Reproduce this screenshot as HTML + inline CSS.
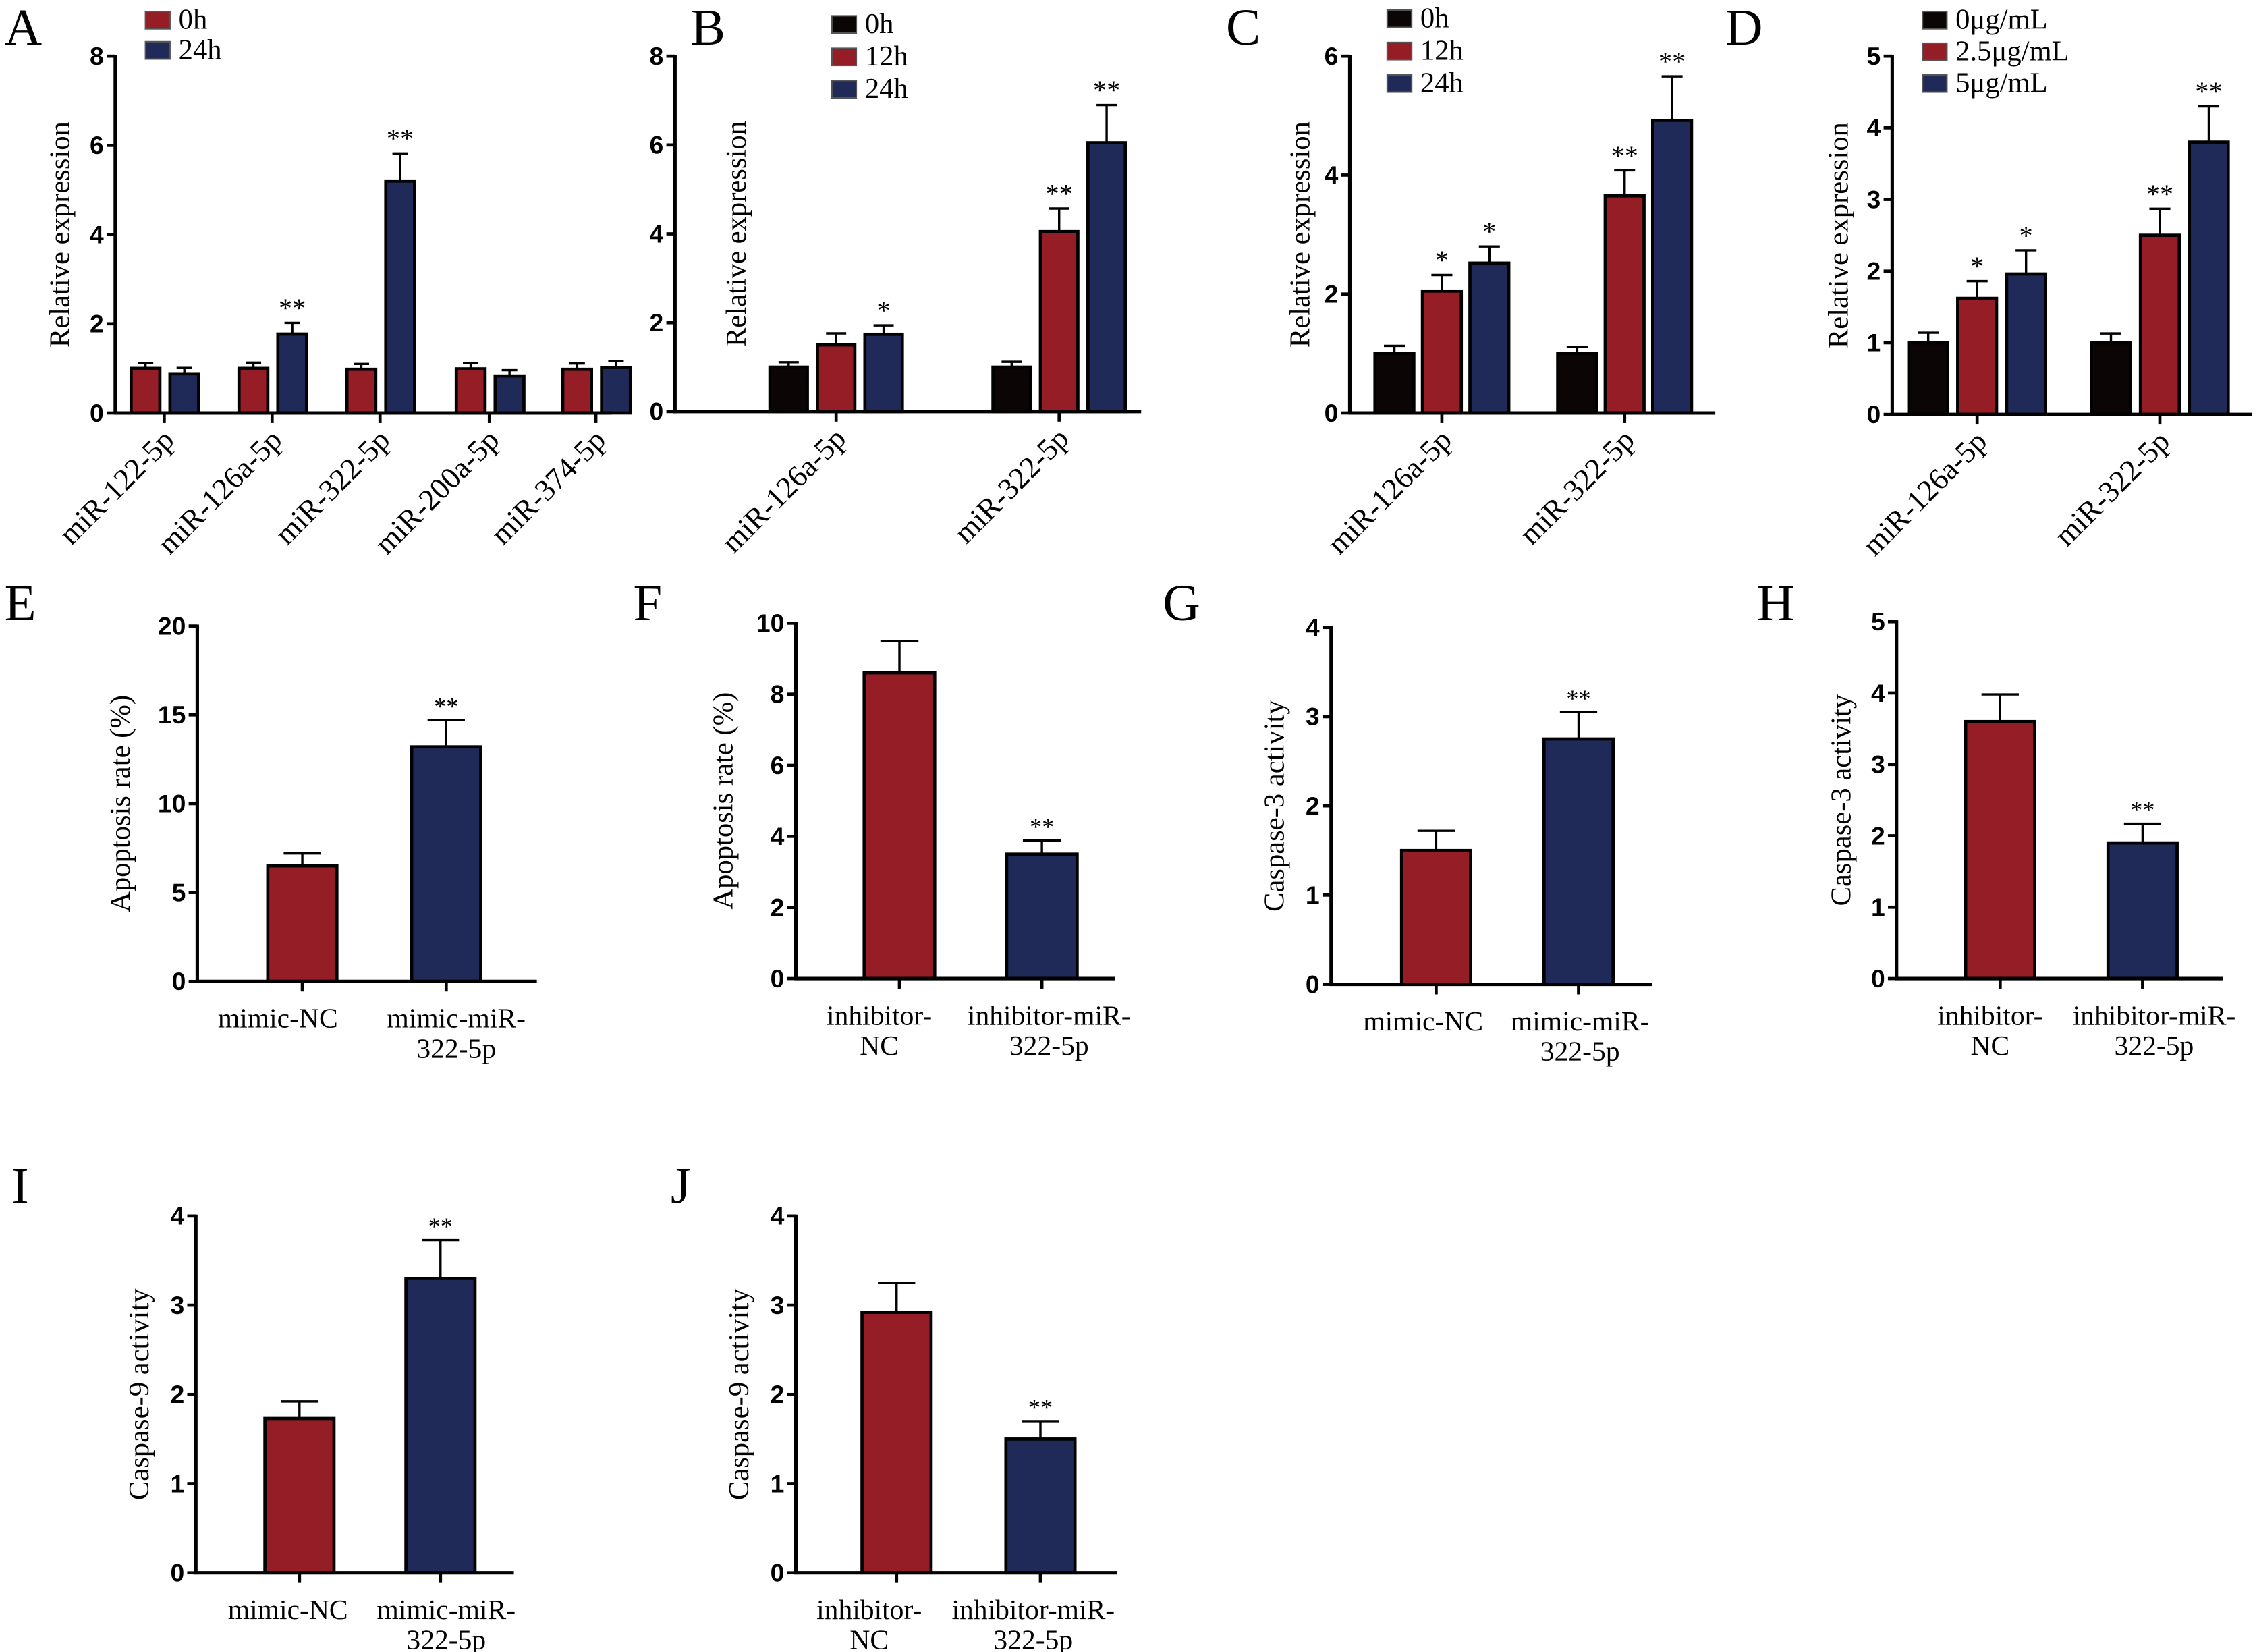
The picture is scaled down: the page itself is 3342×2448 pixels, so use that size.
<!DOCTYPE html>
<html><head><meta charset="utf-8">
<style>
html,body{margin:0;padding:0;background:#fff;}
svg{display:block;}
text{font-family:"Liberation Serif",serif;}
.tk{font-family:"Liberation Sans",sans-serif;font-weight:bold;font-size:17.5px;}
</style></head>
<body>
<svg id="fig" xmlns="http://www.w3.org/2000/svg" width="3342" height="2448" viewBox="0 0 1567 1148"></svg>
<script>
// ---------- DATA ----------
const aCategories=["miR-122-5p","miR-126a-5p","miR-322-5p","miR-200a-5p","miR-374-5p"];
const a0h=[1.0,1.0,0.98,0.99,0.98];
const a0hErr=[0.12,0.13,0.12,0.13,0.13];
const a24h=[0.88,1.77,5.2,0.83,1.02];
const a24hErr=[0.13,0.25,0.62,0.13,0.15];
const a24hSig=["","**","**","",""];
const aTicks=[0,2,4,6,8];

const bCategories=["miR-126a-5p","miR-322-5p"];
const b0h=[1.0,1.0];const b0hErr=[0.11,0.12];
const b12h=[1.5,4.05];const b12hErr=[0.26,0.52];const b12hSig=["","**"];
const b24h=[1.74,6.05];const b24hErr=[0.2,0.85];const b24hSig=["*","**"];
const bTicks=[0,2,4,6,8];

const cCategories=["miR-126a-5p","miR-322-5p"];
const c0h=[1.0,1.0];const c0hErr=[0.13,0.11];
const c12h=[2.05,3.65];const c12hErr=[0.27,0.43];const c12hSig=["*","**"];
const c24h=[2.52,4.92];const c24hErr=[0.28,0.74];const c24hSig=["*","**"];
const cTicks=[0,2,4,6];

const dCategories=["miR-126a-5p","miR-322-5p"];
const d0=[1.0,1.0];const d0Err=[0.14,0.13];
const d25=[1.62,2.5];const d25Err=[0.24,0.37];const d25Sig=["*","**"];
const d5=[1.96,3.8];const d5Err=[0.33,0.5];const d5Sig=["*","**"];
const dTicks=[0,1,2,3,4,5];

const eCategories=[["mimic-NC"],["mimic-miR-","322-5p"]];
const eValues=[6.5,13.2];const eErr=[0.7,1.5];const eSig=["","**"];const eTicks=[0,5,10,15,20];
const fCategories=[["inhibitor-","NC"],["inhibitor-miR-","322-5p"]];
const fValues=[8.6,3.5];const fErr=[0.9,0.38];const fSig=["","**"];const fTicks=[0,2,4,6,8,10];
const gCategories=[["mimic-NC"],["mimic-miR-","322-5p"]];
const gValues=[1.5,2.75];const gErr=[0.22,0.3];const gSig=["","**"];const gTicks=[0,1,2,3,4];
const hCategories=[["inhibitor-","NC"],["inhibitor-miR-","322-5p"]];
const hValues=[3.6,1.9];const hErr=[0.38,0.27];const hSig=["","**"];const hTicks=[0,1,2,3,4,5];
const iCategories=[["mimic-NC"],["mimic-miR-","322-5p"]];
const iValues=[1.73,3.3];const iErr=[0.19,0.43];const iSig=["","**"];const iTicks=[0,1,2,3,4];
const jCategories=[["inhibitor-","NC"],["inhibitor-miR-","322-5p"]];
const jValues=[2.92,1.5];const jErr=[0.33,0.2];const jSig=["","**"];const jTicks=[0,1,2,3,4];

// ---------- DRAWING ----------
const RED="#951e26",NAVY="#1f2a58",BLK="#0b0506";
const svg=document.getElementById('fig');
const NS="http://www.w3.org/2000/svg";
function mk(tag,attrs,parent){const e=document.createElementNS(NS,tag);for(const k in attrs)e.setAttribute(k,attrs[k]);(parent||svg).appendChild(e);return e;}

function drawPanel(p){
  const g=mk('g',{});
  
  
  const L=mk('text',{x:p.letter[0],y:p.letter[1],'font-size':36},g);L.textContent=p.id;
  
  
  const max=p.ticks[p.ticks.length-1];
  const yS=v=>p.y0-v/max*(p.y0-p.yTop);
  const yt=mk('text',{x:0,y:0,'font-size':20,'text-anchor':'middle',transform:`translate(${p.ytx},${(p.y0+p.yTop)/2}) rotate(-90)`},g);
  yt.textContent=p.ytitle;
  
  
  p.ticks.forEach(t=>{
    const y=yS(t);
    const l=mk('line',{x1:p.x0-6,x2:p.x0,y1:y,y2:y,stroke:'#000','stroke-width':2.2},g);
    
    
    const tx=mk('text',{x:p.x0-8,y:y+6,'text-anchor':'end',class:'tk'},g);tx.textContent=t;
    
    
  });
  p.series.forEach((s,j)=>{
    s.vals.forEach((v,i)=>{
      const cx=p.centers[i]+p.offsets[j];
      const top=yS(v),et=yS(v+s.errs[i]);
      const el=mk('line',{x1:cx,x2:cx,y1:top,y2:et,stroke:'#000','stroke-width':1.6},g);
      
      
      const cap=mk('line',{x1:cx-p.bw*0.27,x2:cx+p.bw*0.27,y1:et,y2:et,stroke:'#000','stroke-width':1.6},g);
      
      
      const fill=s.colors?s.colors[i]:s.color;
      const r=mk('rect',{x:cx-p.bw/2,y:top,width:p.bw,height:p.y0-top,fill:fill,stroke:'#000','stroke-width':2.2},g);
      
      
      if(s.sig&&s.sig[i]){const st=mk('text',{x:cx,y:et-4,'text-anchor':'middle','font-size':p.starSize||19},g);st.textContent=s.sig[i];
        
        }
    });
  });
  const ya=mk('line',{x1:p.x0,x2:p.x0,y1:p.yTop-1,y2:p.y0+1.1,stroke:'#000','stroke-width':2.4},g);
  
  
  const xa=mk('line',{x1:p.x0-1,x2:p.xEnd,y1:p.y0,y2:p.y0,stroke:'#000','stroke-width':2.4},g);
  
  
  p.cats.forEach((c,i)=>{
    const cx=p.centers[i];
    const tl=mk('line',{x1:cx,x2:cx,y1:p.y0,y2:p.y0+7,stroke:'#000','stroke-width':2.2},g);
    
    
    if(p.rot){
      const t=mk('text',{x:0,y:0,'font-size':21,'text-anchor':'end',transform:`translate(${cx+8},${p.y0+20}) rotate(-45)`},g);t.textContent=c;
      
      
    } else {
      const lx=cx+(p.labelShift?p.labelShift[i]:0);
      c.forEach((line,k)=>{const t=mk('text',{x:lx,y:p.y0+32+k*21,'font-size':19.5,'text-anchor':'middle'},g);t.textContent=line;
        
        });
    }
  });
  if(p.legend){
    p.legend.items.forEach((it,k)=>{
      const y=p.legend.y+k*p.legend.dy;
      const r=mk('rect',{x:p.legend.x,y:y,width:17,height:12,fill:it[1],stroke:'#555','stroke-width':1},g);
      
      
      const t=mk('text',{x:p.legend.x+23,y:y+12,'font-size':20},g);t.textContent=it[0];
      
      
    });
  }
}

drawPanel({id:'A',letter:[3,31],x0:80,y0:287,yTop:39,xEnd:425,ticks:aTicks,ytitle:'Relative expression',ytx:48,
  cats:aCategories,rot:true,centers:[114,189,264,340,414],offsets:[-13,14],bw:20,
  series:[{vals:a0h,errs:a0hErr,color:RED},{vals:a24h,errs:a24hErr,color:NAVY,sig:a24hSig}],
  legend:{x:101,y:8,dy:21,items:[['0h',RED],['24h',NAVY]]}});
drawPanel({id:'B',letter:[480,31],x0:469,y0:286,yTop:39,xEnd:793,ticks:bTicks,ytitle:'Relative expression',ytx:518,
  cats:bCategories,rot:true,centers:[581,736],offsets:[-33,0,33],bw:26,
  series:[{vals:b0h,errs:b0hErr,color:BLK},{vals:b12h,errs:b12hErr,color:RED,sig:b12hSig},{vals:b24h,errs:b24hErr,color:NAVY,sig:b24hSig}],
  legend:{x:578,y:11,dy:22.5,items:[['0h',BLK],['12h',RED],['24h',NAVY]]}});
drawPanel({id:'C',letter:[852,31],x0:938,y0:287,yTop:39,xEnd:1192,ticks:cTicks,ytitle:'Relative expression',ytx:910,
  cats:cCategories,rot:true,centers:[1002,1129],offsets:[-33,0,33],bw:27,
  series:[{vals:c0h,errs:c0hErr,color:BLK},{vals:c12h,errs:c12hErr,color:RED,sig:c12hSig},{vals:c24h,errs:c24hErr,color:NAVY,sig:c24hSig}],
  legend:{x:964,y:7,dy:22.5,items:[['0h',BLK],['12h',RED],['24h',NAVY]]}});
drawPanel({id:'D',letter:[1199,31],x0:1315,y0:288,yTop:39,xEnd:1565,ticks:dTicks,ytitle:'Relative expression',ytx:1284,
  cats:dCategories,rot:true,centers:[1374,1501],offsets:[-34,0,34],bw:27,
  series:[{vals:d0,errs:d0Err,color:BLK},{vals:d25,errs:d25Err,color:RED,sig:d25Sig},{vals:d5,errs:d5Err,color:NAVY,sig:d5Sig}],
  legend:{x:1336,y:8,dy:22,items:[['0\u03bcg/mL',BLK],['2.5\u03bcg/mL',RED],['5\u03bcg/mL',NAVY]]}});

const PAIR=[RED,NAVY];
drawPanel({id:'E',letter:[3,431],x0:137,y0:682,yTop:435,xEnd:373,ticks:eTicks,ytitle:'Apoptosis rate (%)',ytx:90,
  cats:eCategories,rot:false,centers:[210,310],labelShift:[-17,7],offsets:[0],bw:48,
  series:[{vals:eValues,errs:eErr,colors:PAIR,sig:eSig}],starSize:17});
drawPanel({id:'F',letter:[440,431],x0:553,y0:680,yTop:433,xEnd:775,ticks:fTicks,ytitle:'Apoptosis rate (%)',ytx:509,
  cats:fCategories,rot:false,centers:[625,724],labelShift:[-14,5],offsets:[0],bw:49,
  series:[{vals:fValues,errs:fErr,colors:PAIR,sig:fSig}],starSize:17});
drawPanel({id:'G',letter:[808,431],x0:925,y0:684,yTop:436,xEnd:1148,ticks:gTicks,ytitle:'Caspase-3 activity',ytx:892,
  cats:gCategories,rot:false,centers:[998,1097],labelShift:[-9,1],offsets:[0],bw:48,
  series:[{vals:gValues,errs:gErr,colors:PAIR,sig:gSig}],starSize:17});
drawPanel({id:'H',letter:[1221,431],x0:1318,y0:680,yTop:432,xEnd:1545,ticks:hTicks,ytitle:'Caspase-3 activity',ytx:1286,
  cats:hCategories,rot:false,centers:[1390,1489],labelShift:[-7,8],offsets:[0],bw:48,
  series:[{vals:hValues,errs:hErr,colors:PAIR,sig:hSig}],starSize:17});
drawPanel({id:'I',letter:[8,836],x0:136,y0:1093,yTop:845,xEnd:357,ticks:iTicks,ytitle:'Caspase-9 activity',ytx:103,
  cats:iCategories,rot:false,centers:[208,306],labelShift:[-8,4],offsets:[0],bw:48,
  series:[{vals:iValues,errs:iErr,colors:PAIR,sig:iSig}],starSize:17});
drawPanel({id:'J',letter:[466,836],x0:553,y0:1093,yTop:845,xEnd:776,ticks:jTicks,ytitle:'Caspase-9 activity',ytx:520,
  cats:jCategories,rot:false,centers:[623,723],labelShift:[-19,-5],offsets:[0],bw:48,
  series:[{vals:jValues,errs:jErr,colors:PAIR,sig:jSig}],starSize:17});
</script>
</body></html>
